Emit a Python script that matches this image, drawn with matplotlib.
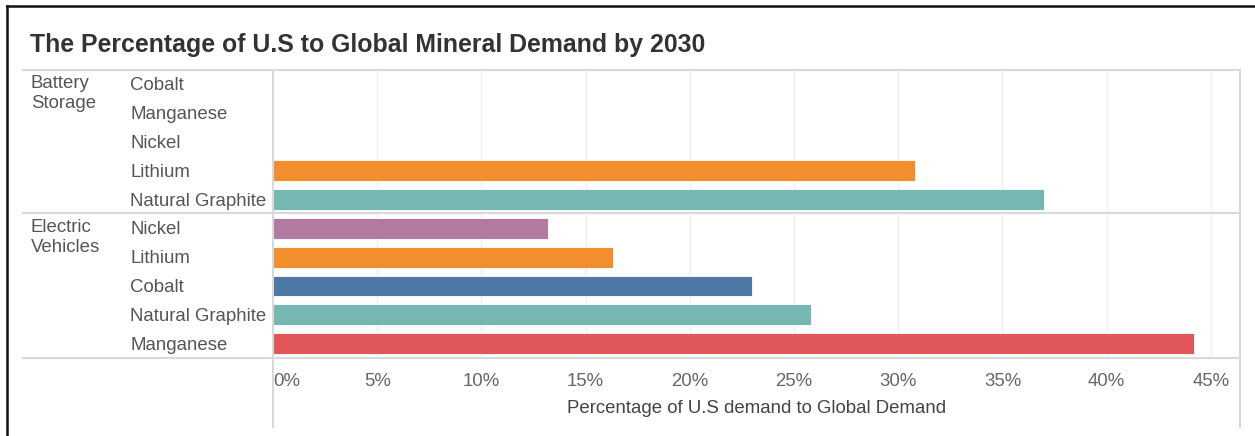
import numpy as np
import matplotlib
matplotlib.use("Agg")
import matplotlib.pyplot as plt
from matplotlib.lines import Line2D
from matplotlib.transforms import blended_transform_factory

plt.rcParams['font.family'] = ['Liberation Sans', 'DejaVu Sans']

# sector -> minerals, share of global demand (%), 0 = no value
battery_minerals = ["Cobalt", "Manganese", "Nickel", "Lithium", "Natural Graphite"]
battery_values = [0, 0, 0, 30.8, 37.0]
ev_minerals = ["Nickel", "Lithium", "Cobalt", "Natural Graphite", "Manganese"]
ev_values = [13.2, 16.3, 23.0, 25.8, 44.2]
sectors = ["Battery\nStorage", "Electric\nVehicles"]
ticks = [0, 5, 10, 15, 20, 25, 30, 35, 40, 45]

colors = {
    "Cobalt": "#4e79a7",
    "Manganese": "#e15759",
    "Nickel": "#b07aa1",
    "Lithium": "#f28e2b",
    "Natural Graphite": "#76b7b2",
}

W, H = 1255, 436
fig = plt.figure(figsize=(W / 100, H / 100), dpi=100)


def fx(x):
    return x / W


def fy(y):
    return 1 - y / H


# plot pane in pixel terms: x 273..1240, y 70..358
ax = fig.add_axes([fx(273), fy(358), fx(1240) - fx(273), fy(70) - fy(358)])

minerals = battery_minerals + ev_minerals
values = battery_values + ev_values
rows = np.arange(len(minerals))
ax.barh(rows, values, height=0.72, color=[colors[m] for m in minerals],
        edgecolor="white", linewidth=0.6, zorder=3)

ax.set_xlim(0, 46.4)
ax.set_ylim(len(minerals) - 0.5, -0.5)
ax.set_yticks([])
ax.set_xticks(ticks)
ax.set_xticklabels([f"{t}%" for t in ticks])
ax.tick_params(axis="x", length=0, pad=11, labelsize=13.4, labelcolor="#666666")
ax.get_xticklabels()[0].set_horizontalalignment("left")
for t in ticks[1:]:
    ax.axvline(t, color="#efefef", linewidth=1, zorder=1)
for s in ax.spines.values():
    s.set_visible(False)
ax.set_xlabel("Percentage of U.S demand to Global Demand", fontsize=13.4,
              color="#444444", labelpad=7)

# row headers
tr = blended_transform_factory(fig.transFigure, ax.transData)
for r, m in zip(rows, minerals):
    ax.text(fx(130), r + 0.05, m, transform=tr, ha="left", va="center",
            fontsize=13.4, color="#555555")
for i, s in enumerate(sectors):
    ax.text(fx(31), i * 5 - 0.32, s, transform=tr, ha="left", va="top",
            fontsize=13.4, color="#555555", linespacing=1.2)

# header / pane rules
grey = "#d9d9d9"
for y in (70, 213, 358):
    fig.add_artist(Line2D([fx(23), fx(1240)], [fy(y), fy(y)], color=grey, linewidth=1.5))
for x in (273, 1240):
    fig.add_artist(Line2D([fx(x), fx(x)], [fy(70), fy(427)], color=grey, linewidth=1.5))

# dark frame along top and left
fig.add_artist(Line2D([fx(7), fx(W)], [fy(6), fy(6)], color="#111111", linewidth=1.8))
fig.add_artist(Line2D([fx(7), fx(7)], [fy(6), fy(H)], color="#111111", linewidth=1.8))

fig.text(fx(30), fy(45), "The Percentage of U.S to Global Mineral Demand by 2030",
         fontsize=17.9, fontweight="bold", color="#333333", ha="left", va="center")

fig.savefig("out.png", dpi=100)
